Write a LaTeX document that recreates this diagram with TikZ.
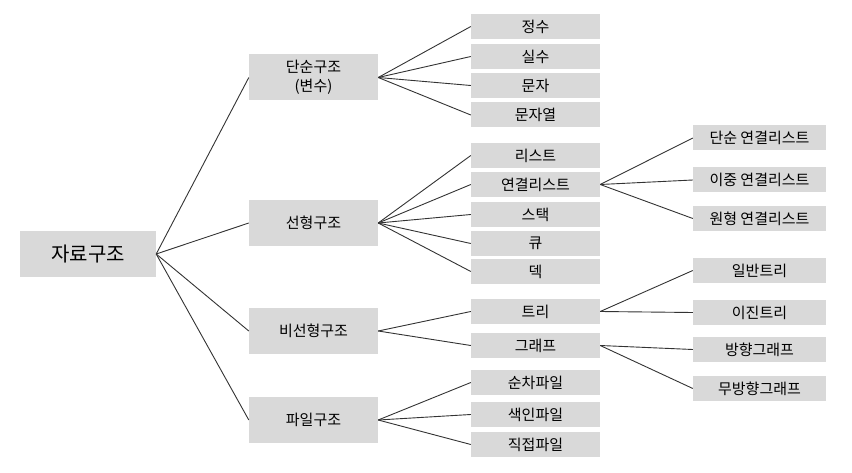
\documentclass[tikz,border=0pt]{standalone}
\usepackage{fontspec}
\setmainfont{Noto Sans CJK KR}
\definecolor{boxgray}{HTML}{D9D9D9}
\definecolor{linegray}{HTML}{333333}
\begin{document}
\begin{tikzpicture}[x=1pt,y=-1pt,
  box/.style={fill=boxgray, inner sep=0pt, font=\fontsize{15}{19}\selectfont, text=black},
  root/.style={box, minimum width=136pt, minimum height=46pt, font=\fontsize{20}{24}\selectfont},
  lvone/.style={box, minimum width=129pt, minimum height=46pt},
  lvtwo/.style={box, minimum width=129pt, minimum height=25pt},
  lvthree/.style={box, minimum width=133pt, minimum height=25pt},
  conn/.style={draw=linegray, line width=0.9pt}]
\useasboundingbox (0,0) rectangle (852,473);
\node[root] (root) at (88,254) {자료구조};
\node[lvone, align=center] (simple) at (313.5,77.5) {단순구조\\(변수)};
\node[lvone] (linear) at (313.5,223) {선형구조};
\node[lvone] (nonlin) at (313.5,331) {비선형구조};
\node[lvone] (file) at (313.5,420) {파일구조};
\node[lvtwo] (int) at (535.5,26.5) {정수};
\node[lvtwo] (real) at (535.5,56.5) {실수};
\node[lvtwo] (char) at (535.5,85.5) {문자};
\node[lvtwo] (str) at (535.5,115) {문자열};
\node[lvtwo] (list) at (535.5,155.5) {리스트};
\node[lvtwo] (llist) at (535.5,184.5) {연결리스트};
\node[lvtwo] (stack) at (535.5,214.5) {스택};
\node[lvtwo] (queue) at (535.5,243.5) {큐};
\node[lvtwo] (deque) at (535.5,271.5) {덱};
\node[lvtwo] (tree) at (535.5,311.5) {트리};
\node[lvtwo] (graph) at (535.5,345.5) {그래프};
\node[lvtwo] (seq) at (535.5,382.5) {순차파일};
\node[lvtwo] (idx) at (535.5,414.5) {색인파일};
\node[lvtwo] (dir) at (535.5,444.5) {직접파일};
\node[lvthree] (sll) at (759.5,138) {단순 연결리스트};
\node[lvthree] (dll) at (759.5,180) {이중 연결리스트};
\node[lvthree] (cll) at (759.5,218.5) {원형 연결리스트};
\node[lvthree] (gtree) at (759.5,270.5) {일반트리};
\node[lvthree] (btree) at (759.5,312.5) {이진트리};
\node[lvthree] (dgraph) at (759.5,349.5) {방향그래프};
\node[lvthree] (ugraph) at (759.5,388.5) {무방향그래프};
\foreach \c in {simple,linear,nonlin,file} \draw[conn] (root.east) -- (\c.west);
\foreach \c in {int,real,char,str} \draw[conn] (simple.east) -- (\c.west);
\foreach \c in {list,llist,stack,queue,deque} \draw[conn] (linear.east) -- (\c.west);
\foreach \c in {tree,graph} \draw[conn] (nonlin.east) -- (\c.west);
\foreach \c in {seq,idx,dir} \draw[conn] (file.east) -- (\c.west);
\foreach \c in {sll,dll,cll} \draw[conn] (llist.east) -- (\c.west);
\foreach \c in {gtree,btree} \draw[conn] (tree.east) -- (\c.west);
\foreach \c in {dgraph,ugraph} \draw[conn] (graph.east) -- (\c.west);
\end{tikzpicture}
\end{document}
